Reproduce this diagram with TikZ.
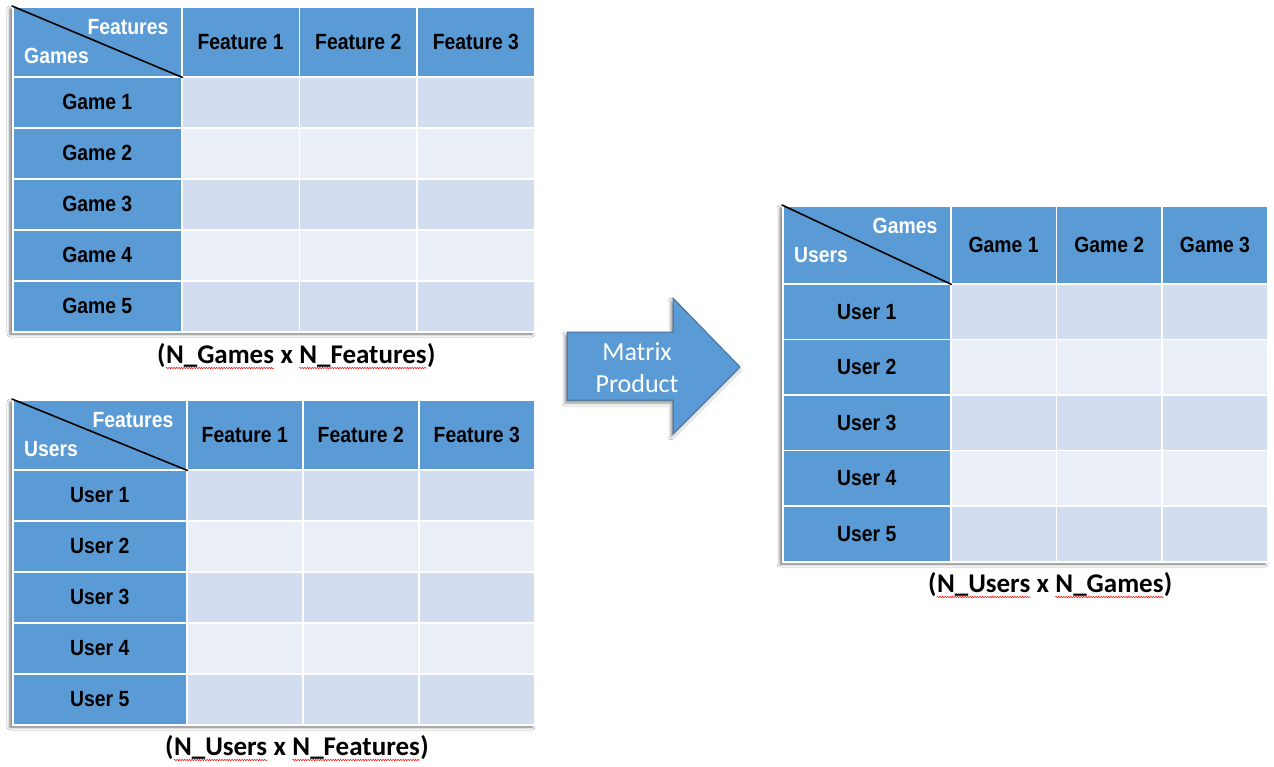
\documentclass[tikz,border=0pt]{standalone}
\usepackage{fontspec}
\setmainfont{Liberation Sans}
\newfontfamily\tabfont[FakeStretch=0.88]{Liberation Sans}
\newfontfamily\capfont{Carlito}
\usepackage{xcolor}
\usepackage{tikz}
\usetikzlibrary{calc,positioning,shadows.blur,decorations.pathmorphing}
\definecolor{hdrblue}{HTML}{5B9BD5}
\definecolor{rowdark}{HTML}{D2DEEF}
\definecolor{rowlight}{HTML}{EAEFF7}
\definecolor{arrowline}{HTML}{41719C}
\tikzset{
  cell/.style={anchor=north west, draw=white, line width=1.5pt, inner sep=0pt,
    font=\tabfont\bfseries\fontsize{22}{26}\selectfont},
  hdr/.style={cell, fill=hdrblue, text=black},
  diag/.style={draw=black, line width=1.6pt, line cap=round},
  ctitle/.style={text=white, inner sep=0pt, font=\tabfont\bfseries\fontsize{22}{26}\selectfont},
  tabshadow/.style={fill=white, blur shadow={shadow xshift=-2pt, shadow yshift=-3pt, shadow blur radius=3pt, shadow opacity=55}},
  arrowbox/.style={fill=hdrblue, draw=arrowline, line width=1pt, line join=miter,
    blur shadow={shadow xshift=-2pt, shadow yshift=-3pt, shadow blur radius=3pt, shadow opacity=45}},
  capword/.style={inner sep=0pt, font=\capfont\bfseries\fontsize{27}{30}\selectfont},
  spellwave/.style={draw=red, line width=0.5pt, decorate,
    decoration={snake, amplitude=0.7pt, segment length=2.5pt}},
  arrowtext/.style={text=white, align=center, inner sep=0pt, font=\capfont\fontsize{26}{32}\selectfont},
}
% #1 name, #2 left, #3 first column right, #4 column width,
% #5 top, #6 header bottom, #7 row height, #8 row word, #9 column word
\newcommand\mtab[9]{%
  \pgfmathsetmacro\tabR{#3+3*#4}%
  \pgfmathsetmacro\tabB{#6+5*#7}%
  \fill[tabshadow] (#2,#5) rectangle (\tabR,\tabB);
  \node[hdr, minimum width={#3-#2}, minimum height={#6-#5}] (#1-0-0) at (#2,#5) {};
  \foreach \cj in {1,2,3}
    \node[hdr, minimum width=#4, minimum height={#6-#5}] (#1-0-\cj) at ({#3+(\cj-1)*#4},#5) {#9 \cj};
  \foreach \ri/\rowfill in {1/rowdark,2/rowlight,3/rowdark,4/rowlight,5/rowdark} {
    \node[hdr, minimum width={#3-#2}, minimum height=#7] (#1-\ri-0) at (#2,{#6+(\ri-1)*#7}) {#8 \ri};
    \foreach \cj in {1,2,3}
      \node[cell, fill=\rowfill, minimum width=#4, minimum height=#7] (#1-\ri-\cj) at ({#3+(\cj-1)*#4},{#6+(\ri-1)*#7}) {};
  }
  \draw[diag] (#1-0-0.north west) -- (#1-0-0.south east);
  \node[ctitle, anchor=east] (#1-coltitle) at ($(#1-0-0.north east)+(-14,21)$) {#9s};
  \node[ctitle, anchor=west] (#1-rowtitle) at ($(#1-0-0.north west)+(12,50)$) {#8s};
}
% caption: #1 name, #2 left x, #3 baseline y, #4 first word, #5 second word
\newcommand\mcap[5]{%
  \node[capword, anchor=base west] (#1-a) at (#2,#3) {(};
  \node[capword, base right=0pt of #1-a] (#1-b) {N\_#4};
  \node[capword, inner xsep=6pt, base right=0pt of #1-b] (#1-c) {x};
  \node[capword, base right=0pt of #1-c] (#1-d) {N\_#5};
  \node[capword, base right=0pt of #1-d] (#1-e) {)};
  \draw[spellwave] ($(#1-b.base west)+(0,5)$) -- ($(#1-b.base east)+(0,5)$);
  \draw[spellwave] ($(#1-d.base west)+(0,5)$) -- ($(#1-d.base east)+(0,5)$);
}
\begin{document}
\begin{tikzpicture}[x=1pt,y=-1pt]
  \useasboundingbox (0,0) rectangle (1274,766);
  \fill[white] (0,0) rectangle (1274,766);
  % games x features
  \mtab{gf}{12}{181}{117.67}{6}{76}{51}{Game}{Feature}
  \mcap{gfcap}{157}{363}{Games}{Features}
  % users x features
  \mtab{uf}{12}{186}{116}{399}{469}{51}{User}{Feature}
  \mcap{ufcap}{165}{755}{Users}{Features}
  % users x games
  \mtab{ug}{782}{950}{105.67}{205}{283}{55.6}{User}{Game}
  \mcap{ugcap}{928}{592}{Users}{Games}
  % product arrow
  \draw[arrowbox] (567,332) -- (673,332) -- (673,298) -- (740,367) -- (673,434) -- (673,400) -- (567,400) -- cycle;
  \node[arrowtext] (prod) at (637,368) {Matrix\\Product};
\end{tikzpicture}
\end{document}
